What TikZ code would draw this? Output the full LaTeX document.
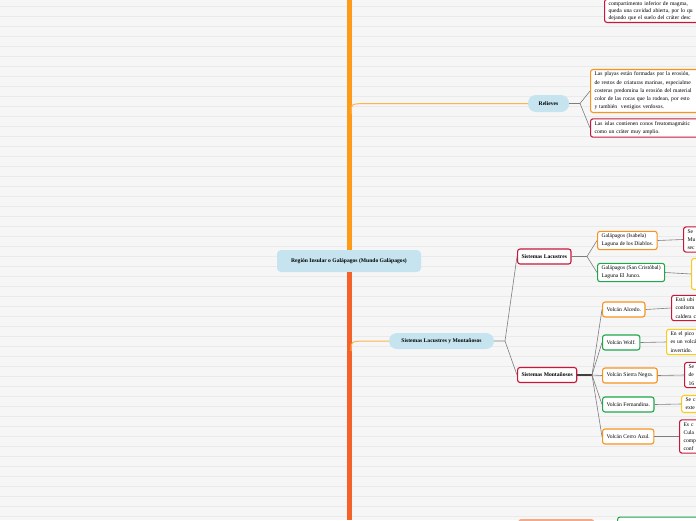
\documentclass[tikz,border=0pt]{standalone}
\usepackage{fontspec}
\setmainfont{Liberation Serif}
\definecolor{bgcol}{HTML}{F6F6F6}
\definecolor{rulecol}{HTML}{EAEAEA}
\definecolor{topicblue}{HTML}{C6E4EF}
\definecolor{orangeB}{HTML}{F7931E}
\definecolor{redB}{HTML}{C8173A}
\definecolor{greenB}{HTML}{1FA84A}
\definecolor{yellowB}{HTML}{F9CC1B}
\definecolor{trunkup}{HTML}{FF9A16}
\definecolor{trunkdown}{HTML}{F4622A}
\definecolor{boughcol}{HTML}{FDB54C}
\definecolor{linkgray}{HTML}{7D7D7D}
\definecolor{salmon}{HTML}{F3A98A}
\begin{document}
\begin{tikzpicture}[x=1pt, y=-1pt,
  every node/.style={font=\fontsize{5.6}{8.2}\selectfont},
  topic/.style={fill=topicblue, rounded corners=8pt, font=\fontsize{5.6}{8.2}\selectfont\bfseries, minimum height=16pt, inner xsep=6pt},
  sub/.style={draw=redB, line width=1.1pt, fill=white, rounded corners=2.5pt, font=\fontsize{5.6}{8.2}\selectfont\bfseries, minimum height=15pt, inner xsep=4pt},
  leaf/.style={draw, line width=1.1pt, fill=white, rounded corners=2.5pt, align=left, inner xsep=4pt, inner ysep=2.5pt, minimum height=15pt},
  link/.style={draw=linkgray, line width=0.6pt},
  bough/.style={draw=boughcol, line width=1pt},
  stem/.style={line width=5pt, line cap=butt}]
\useasboundingbox (0,0) rectangle (696,520);
\clip (0,0) rectangle (696,520);
% lined page
\fill[bgcol] (0,0) rectangle (696,520);
\foreach \k in {0,...,51}
  \draw[rulecol, line width=0.5pt] (0,{6.5+10*\k}) -- (696,{6.5+10*\k});

% trunk and main topics
\coordinate (top) at (349,0);
\coordinate (bottom) at (349,520);
\node[topic, minimum width=144pt, minimum height=22pt, rounded corners=4pt] (region) at (349,261) {Región Insular o Galápagos (Mundo Galápagos)};
\draw[stem, trunkup] (top) -- (region.north);
\draw[stem, trunkdown] (region.south) -- (bottom);

\node[topic, minimum width=41pt, minimum height=17pt] (relieves) at (548.5,103.5) {Relieves};
\node[topic, minimum width=105pt] (slm) at (441.5,341) {Sistemas Lacustres y Montañosos};
\draw[bough] (351,114) .. controls (351,104) .. (363,103.5) -- (relieves.west);
\draw[bough] (351,351) .. controls (351,341.5) .. (363,341) -- (slm.west);

% Relieves
\node[leaf, draw=redB, anchor=south west, text width=150pt, inner ysep=2pt,
  font=\fontsize{5.6}{7}\selectfont] (crater) at (604,23) {compartimento inferior de magma,\\queda una cavidad abierta, por lo qu\\dejando que el suelo del cráter desc};
\node[leaf, draw=orangeB, anchor=west, text width=150pt] (rel1) at (590,91) {Las playas están formadas por la erosión,\\de restos de criaturas marinas, especialme\\costeras predomina la erosión del material\\color de las rocas que la rodean, por esto\\y también\ \ vestigios verdosos.};
\node[leaf, draw=redB, anchor=west, text width=150pt] (rel2) at (590,128) {Las islas contienen conos freatomagmátic\\como un cráter muy amplio.};
\coordinate (rj) at (580,103.5);
\draw[link] (relieves.east) -- (rj) -- (rel1.west);
\draw[link] (rj) -- (rel2.west);

% Sistemas Lacustres
\node[sub, anchor=west] (lac) at (517,256.5) {Sistemas Lacustres};
\node[sub, anchor=west] (mont) at (517,375) {Sistemas Montañosos};
\coordinate (sj) at (505,341);
\draw[link] (slm.east) -- (sj) -- (lac.west);
\draw[link] (sj) -- (mont.west);

\node[leaf, draw=orangeB, anchor=west] (isabela) at (597,240.5) {Galápagos (Isabela)\\Laguna de los Diablos.};
\node[leaf, draw=greenB, anchor=west] (sancris) at (597,272.5) {Galápagos (San Cristóbal)\\Laguna El Junco.};
\coordinate (lj) at (587,256.5);
\draw[link] (lac.east) -- (lj) -- (isabela.west);
\draw[link] (lj) -- (sancris.west);
\node[leaf, draw=redB, anchor=west, text width=40pt] (d-isabela) at (683,239.5) {Se\\Mu\\sec};
\node[leaf, draw=yellowB, anchor=west, text width=40pt, minimum height=31pt] (d-sancris) at (691,274) {};
\draw[link] (isabela.east) -- (d-isabela.west);
\draw[link] (sancris.east) -- (d-sancris.west);

% Sistemas Montanosos
\node[leaf, draw=orangeB, anchor=west] (alcedo) at (602,309.5) {Volcán Alcedo.};
\node[leaf, draw=greenB, anchor=west] (wolf) at (602,342.5) {Volcán Wolf.};
\node[leaf, draw=orangeB, anchor=west] (sierra) at (602,375.5) {Volcán Sierra Negra.};
\node[leaf, draw=greenB, anchor=west] (fern) at (602,404.5) {Volcán Fernandina.};
\node[leaf, draw=orangeB, anchor=west] (cerro) at (602,436.5) {Volcán Cerro Azul.};
\coordinate (mj) at (592,375);
\draw[draw=black!75, line width=1.3pt] (mont.east) -- (mj);
\foreach \v in {alcedo,wolf,sierra,fern,cerro}
  \draw[link] (mj) -- (\v.west);

\node[leaf, draw=redB, anchor=west, text width=60pt] (d-alcedo) at (671,308) {Está ubi\\conform\\caldera c};
\node[leaf, draw=yellowB, anchor=west, text width=60pt] (d-wolf) at (666,342) {En el pico\\es un volcá\\invertido.};
\node[leaf, draw=redB, anchor=west, text width=60pt] (d-sierra) at (684,375) {Se\\de\\16};
\node[leaf, draw=yellowB, anchor=west, text width=60pt] (d-fern) at (681,404) {Se c\\exte};
\node[leaf, draw=redB, anchor=west, text width=60pt] (d-cerro) at (679,436.5) {Es c\\Cula\\comp\\conf};
\foreach \v/\d in {alcedo/d-alcedo,wolf/d-wolf,sierra/d-sierra,fern/d-fern,cerro/d-cerro}
  \draw[link] (\v.east) -- (\d.west);

% next branch, cut by the page edge
\node[fill=salmon, rounded corners=2.5pt, anchor=north west, minimum width=76pt, minimum height=20pt] (nextsub) at (518,519) {};
\node[leaf, draw=greenB, anchor=north west, minimum width=90pt, minimum height=20pt] (nextleaf) at (617,516.5) {};
\end{tikzpicture}
\end{document}
